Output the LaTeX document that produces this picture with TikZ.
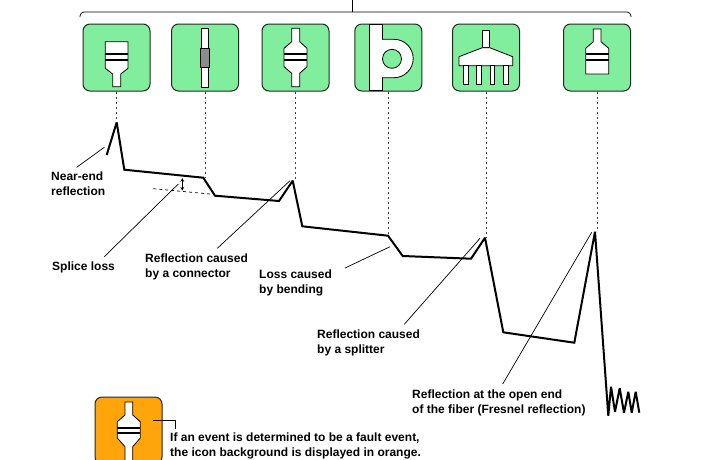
\documentclass[tikz,border=0pt]{standalone}
\usepackage{fontspec}
\setmainfont{Liberation Sans}
\usetikzlibrary{arrows,positioning}

\definecolor{icongreen}{HTML}{80EE9C}
\definecolor{iconorange}{HTML}{FFA40A}
\definecolor{icongrey}{HTML}{8C8C8C}

\tikzset{
  iconbox/.style={draw=black!85, line width=1pt, rounded corners=7pt, minimum width=67pt, minimum height=67pt, inner sep=0pt},
  part/.style={draw=black, fill=white, line width=0.8pt},
  band/.style={line width=1.8pt},
  trace/.style={line width=2pt, line join=miter, miter limit=2},
  leader/.style={line width=0.7pt},
  dots/.style={line width=0.7pt, dash pattern=on 2.5pt off 2.5pt, black!75},
  caption/.style={anchor=north west, inner sep=0pt, align=left, font=\fontsize{12}{15}\selectfont\bfseries}
}

\begin{document}
\begin{tikzpicture}[x=1pt,y=-1pt]
\clip (0,0) rectangle (702,459);

% Bracket
\coordinate (stemtop) at (352,0);
\coordinate (stemfoot) at (352,12);
\draw[line width=0.7pt, rounded corners=4pt] (80,17) -- (80,12) -- (631,12) -- (631,17);
\draw[line width=0.7pt] (stemtop) -- (stemfoot);

% Icon backgrounds
\node[iconbox, fill=icongreen] (iconA) at (116.5,57.5) {};
\node[iconbox, fill=icongreen] (iconB) at (205,57.5) {};
\node[iconbox, fill=icongreen] (iconC) at (295.5,57.5) {};
\node[iconbox, fill=icongreen] (iconD) at (388.3,57.5) {};
\node[iconbox, fill=icongreen] (iconE) at (486,57.5) {};
\node[iconbox, fill=icongreen] (iconF) at (597,57.5) {};
\node[iconbox, fill=iconorange] (iconG) at (128.5,430.5) {};

% Near-end plug
\draw[part] (105.3,41.7) -- (128,41.7) -- (128,68.3) -- (120.7,74) -- (120.7,86.7) -- (112.7,86.7) -- (112.7,74) -- (105.3,68.3) -- cycle;
\draw[band] (105.3,54.3) -- (128,54.3);
\draw[band] (105.3,60) -- (128,60);

% Connector
\draw[part] (201.3,28.3) rectangle (208.7,87.3);
\draw[part, fill=icongrey] (200,48.3) rectangle (209.7,67.7);

% Fused joint
\draw[part] (291.7,28.3) -- (299.7,28.3) -- (299.7,41.7) -- (307,48.3) -- (307,66.7) -- (299.7,73.3) -- (299.7,86.7) -- (291.7,86.7) -- (291.7,73.3) -- (284,66.7) -- (284,48.3) -- (291.7,41.7) -- cycle;
\draw[band] (284,54.3) -- (307,54.3);
\draw[band] (284,60) -- (307,60);

% Bend
\draw[part] (369.3,24.3) rectangle (382.7,90);
\draw[part] (382.7,39.3) -- (394,39.3) arc (-90:90:19.2) -- (382.7,77.7);
\draw[draw=none, fill=white] (370,39.8) rectangle (384,76.9);
\draw[line width=0.8pt] (369.3,24.3) -- (369.3,90);
\draw[line width=0.8pt] (382.7,24.3) -- (382.7,39.3);
\draw[line width=0.8pt] (382.7,77.7) -- (382.7,90);
\draw[part, fill=icongreen] (392,58.8) circle (9.5);

% Splitter
\draw[part] (482.3,30) rectangle (489.7,47.7);
\draw[part] (482.3,47.7) -- (489.7,47.7) -- (512.7,56.7) -- (512.7,65.7) -- (459,65.7) -- (459,56.7) -- cycle;
\foreach \legx in {463.3,476.7,490,503.3}
  \draw[part] (\legx,65.7) rectangle (\legx+4.7,84);

% Open end
\draw[part] (593.3,29) -- (601,29) -- (601,41.7) -- (608.7,48.3) -- (608.7,74) -- (585.7,74) -- (585.7,48.3) -- (593.3,41.7) -- cycle;
\draw[band] (585.7,54.3) -- (608.7,54.3);
\draw[band] (585.7,60) -- (608.7,60);

% Orange icon
\draw[part] (125,402) -- (132.7,402) -- (132.7,415) -- (140.3,421.7) -- (140.3,438) -- (132.7,446.7) -- (132.7,470) -- (125,470) -- (125,446.7) -- (117.3,438) -- (117.3,421.7) -- (125,415) -- cycle;
\draw[band] (117.3,428.3) -- (140.3,428.3);
\draw[band] (117.3,433.3) -- (140.3,433.3);

% Waveform
\draw[trace] (106.7,155) -- (116.7,122.3) -- (124.3,169.7) -- (203.3,177.7) -- (215,195.7) -- (279,201) -- (292.7,180.7) -- (302.3,226.3) -- (388,235.7) -- (402.7,256) -- (471,258.7) -- (485,237.7) -- (503.3,332.3) -- (574.3,342.7) -- (595,231.7) -- (608.3,415.7) -- (611,386.7) -- (615,411.7) -- (619.7,388.3) -- (624,412.7) -- (628.3,391.7) -- (631.7,412.7) -- (635.7,391.7) -- (639.3,412.7);

% Dotted drops
\coordinate (dropA) at (116.5,122);
\coordinate (dropB) at (205,177);
\coordinate (dropC) at (295.5,180);
\coordinate (dropD) at (388.3,235);
\coordinate (dropE) at (486,237);
\coordinate (dropF) at (597,231);
\draw[dots] (iconA.south) -- (dropA);
\draw[dots] (iconB.south) -- (dropB);
\draw[dots] (iconC.south) -- (dropC);
\draw[dots] (iconD.south) -- (dropD);
\draw[dots] (iconE.south) -- (dropE);
\draw[dots] (iconF.south) -- (dropF);

% Captions
\node[caption] (nearend) at (51,172) {Near-end\\reflection};
\node[caption] (splice) at (52,262) {Splice loss};
\node[caption] (connector) at (145,254) {Reflection caused\\by a connector};
\node[caption] (bending) at (259,270) {Loss caused\\by bending};
\node[caption] (splitter) at (317,330) {Reflection caused\\by a splitter};
\node[caption] (fresnel) at (412,390) {Reflection at the open end\\of the fiber (Fresnel reflection)};
\node[caption] (fault) at (170,433) {If an event is determined to be a fault event,\\the icon background is displayed in orange.};

% Leader lines
\coordinate (nearendA) at (76.7,167.3);
\coordinate (nearendB) at (104.3,147.3);
\coordinate (spliceA) at (104.3,256.7);
\coordinate (spliceB) at (178.3,184);
\coordinate (connectorA) at (217.3,248.3);
\coordinate (connectorB) at (290,180.7);
\coordinate (bendingA) at (345,268);
\coordinate (bendingB) at (390,246.7);
\coordinate (splitterA) at (404.3,324.3);
\coordinate (splitterB) at (480,238.3);
\coordinate (fresnelA) at (502.7,384);
\coordinate (fresnelB) at (591.7,232.3);
\draw[leader] (nearendA) -- (nearendB);
\draw[leader] (spliceA) -- (spliceB);
\draw[leader] (connectorA) -- (connectorB);
\draw[leader] (bendingA) -- (bendingB);
\draw[leader] (splitterA) -- (splitterB);
\draw[leader] (fresnelA) -- (fresnelB);

% Fault leader
\coordinate (faultA) at (153.3,420.7);
\coordinate (faultB) at (175.7,429);
\draw[leader] (faultA) -| (faultB);

% Splice loss gap
\coordinate (gapA) at (153.3,188.7);
\coordinate (gapB) at (213.3,194.3);
\coordinate (gapC) at (182.3,178);
\coordinate (gapD) at (182.3,190.7);
\draw[leader, dashed] (gapA) -- (gapB);
\draw[leader, <->, >=stealth] (gapC) -- (gapD);

\end{tikzpicture}
\end{document}
